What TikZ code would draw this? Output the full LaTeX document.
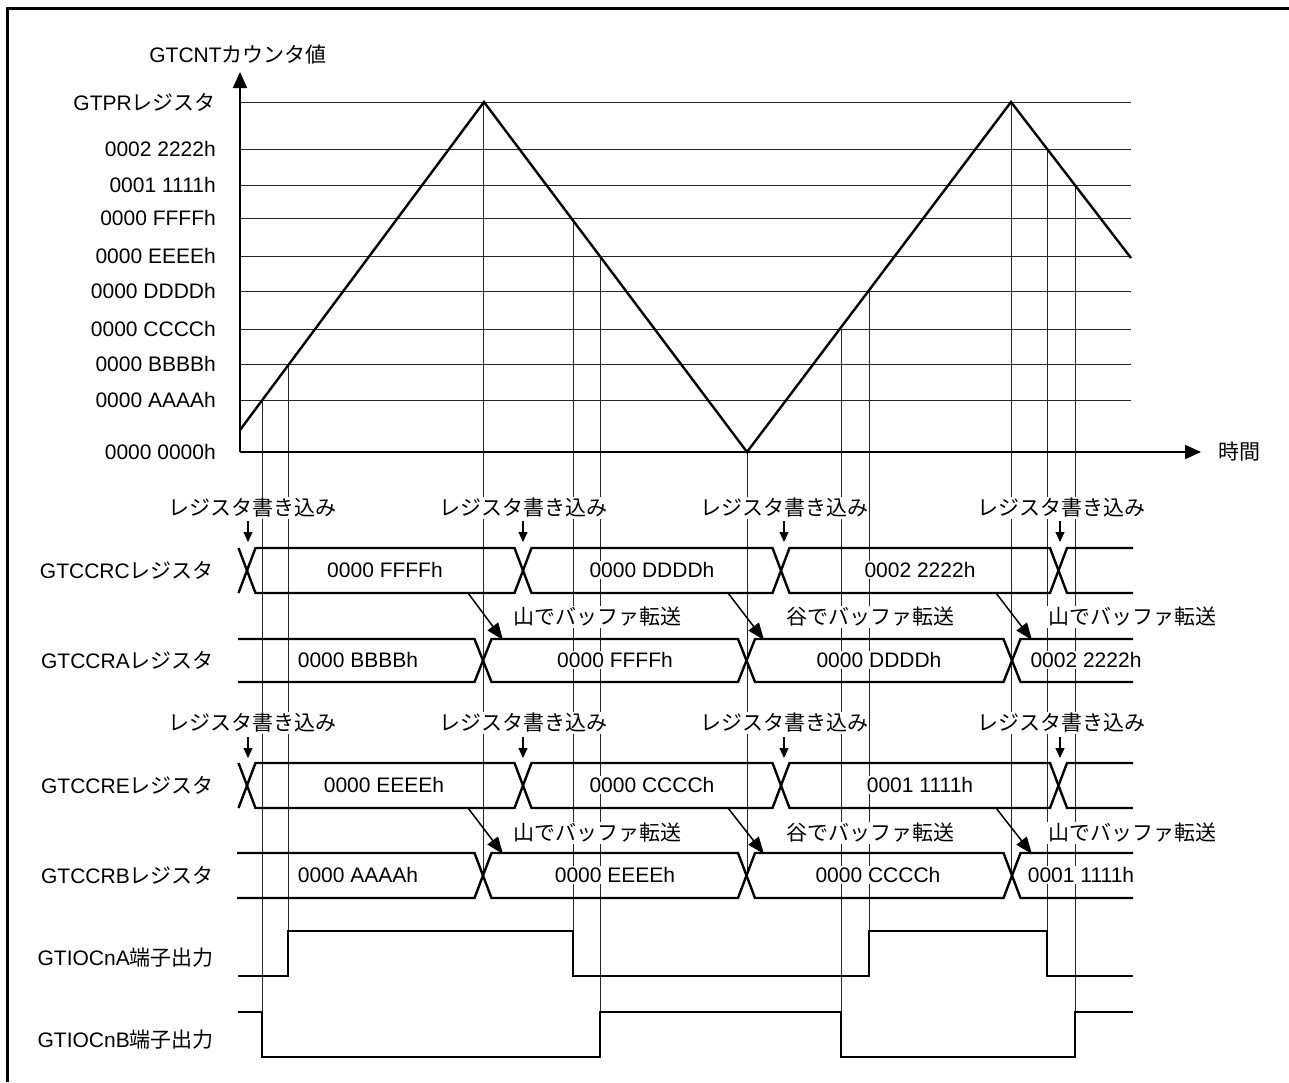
\documentclass[tikz,border=0pt]{standalone}
\usepackage{fontspec}
\setmainfont{Liberation Sans}
\newfontfamily\jp{Noto Sans CJK JP}
\usetikzlibrary{arrows.meta}
\begin{document}
\begin{tikzpicture}[x=1pt,y=-1pt,
  font=\fontsize{21}{24}\selectfont,
  gridline/.style={line width=1pt,black!85},
  wave/.style={line width=2.4pt,line join=miter},
  axis/.style={line width=2pt,-{Triangle[length=16pt,width=14pt]}},
  txt/.style={inner sep=1pt,fill=white},
  lbl/.style={inner sep=0pt,anchor=east},
  dnarrow/.style={line width=1.2pt,-{Triangle[length=10pt,width=9pt]}},
  xfer/.style={line width=1.5pt,-{Triangle[length=17pt,width=13pt]}}]
\useasboundingbox (0,0) rectangle (1289,1082);
% frame
\draw[line width=3pt] (7,1082) -- (7,8.5) -- (1289,8.5);

% horizontal grid
\foreach \yy in {102,149,185,218,256,291,329,364,400}
  \draw[gridline] (240,\yy) -- (1131,\yy);

% vertical lines
\draw[gridline] (262,400) -- (262,1012);
\draw[gridline] (288,364) -- (288,931);
\draw[gridline] (483,102) -- (483,876);
\draw[gridline] (573,218) -- (573,931);
\draw[gridline] (600,256) -- (600,1012);
\draw[gridline] (747,452) -- (747,876);
\draw[gridline] (841,329) -- (841,1012);
\draw[gridline] (869,291) -- (869,931);
\draw[gridline] (1011,102) -- (1011,876);
\draw[gridline] (1047,149) -- (1047,931);
\draw[gridline] (1075,185) -- (1075,1012);

% axes
\coordinate (orig) at (240,452);
\coordinate (ytip) at (240,72);
\coordinate (xtip) at (1201,452);
\draw[axis] (orig) -- (ytip);
\draw[axis] (orig) -- (xtip);
\node[inner sep=0pt] (ylab) at (238,55) {GTCNT{\jp カウンタ値}};
\node[inner sep=0pt,anchor=west] (xlab) at (1218,452) {\jp 時間};

% y labels
\node[lbl] (l0) at (216,102) {GTPR{\jp レジスタ}};
\node[lbl] (l1) at (216,149) {0002 2222h};
\node[lbl] (l2) at (216,185) {0001 1111h};
\node[lbl] (l3) at (216,218) {0000 FFFFh};
\node[lbl] (l4) at (216,256) {0000 EEEEh};
\node[lbl] (l5) at (216,291) {0000 DDDDh};
\node[lbl] (l6) at (216,329) {0000 CCCCh};
\node[lbl] (l7) at (216,364) {0000 BBBBh};
\node[lbl] (l8) at (216,400) {0000 AAAAh};
\node[lbl] (l9) at (216,452) {0000 0000h};

% triangle
\draw[wave] (240,430) -- (484,102) -- (747,452) -- (1011,102) -- (1131,258);

% row labels
\node[lbl] (rC) at (214,570) {GTCCRC{\jp レジスタ}};
\node[lbl] (rA) at (214,660) {GTCCRA{\jp レジスタ}};
\node[lbl] (rE) at (214,785) {GTCCRE{\jp レジスタ}};
\node[lbl] (rB) at (214,875) {GTCCRB{\jp レジスタ}};
\node[lbl] (rOA) at (214,958) {GTIOCnA{\jp 端子出力}};
\node[lbl] (rOB) at (214,1040) {GTIOCnB{\jp 端子出力}};

% register write labels
\foreach \cx/\nm in {252/a,523/b,784/c,1061/d}{
  \node[txt] (wc\nm) at (\cx,508) {\jp レジスタ書き込み};
  \node[txt] (we\nm) at (\cx,723) {\jp レジスタ書き込み};
}
\foreach \ax in {248,523,784,1060}{
  \draw[dnarrow] (\ax,521) -- (\ax,542);
  \draw[dnarrow] (\ax,737) -- (\ax,758);
}

% transfer labels
\node[txt] (tc1) at (597,617) {\jp 山でバッファ転送};
\node[txt] (tc2) at (870,617) {\jp 谷でバッファ転送};
\node[txt] (tc3) at (1132,617) {\jp 山でバッファ転送};
\node[txt] (te1) at (597,833) {\jp 山でバッファ転送};
\node[txt] (te2) at (870,833) {\jp 谷でバッファ転送};
\node[txt] (te3) at (1132,833) {\jp 山でバッファ転送};

% bus values
\node[txt] (vc1) at (385,570) {0000 FFFFh};
\node[txt] (vc2) at (652,570) {0000 DDDDh};
\node[txt] (vc3) at (920,570) {0002 2222h};
\node[txt] (va1) at (358,660) {0000 BBBBh};
\node[txt] (va2) at (615,660) {0000 FFFFh};
\node[txt] (va3) at (879,660) {0000 DDDDh};
\node[txt] (va4) at (1086,660) {0002 2222h};
\node[txt] (ve1) at (384,785) {0000 EEEEh};
\node[txt] (ve2) at (652,785) {0000 CCCCh};
\node[txt] (ve3) at (920,785) {0001 1111h};
\node[txt] (vb1) at (358,875) {0000 AAAAh};
\node[txt] (vb2) at (615,875) {0000 EEEEh};
\node[txt] (vb3) at (878,875) {0000 CCCCh};
\node[txt] (vb4) at (1081,875) {0001 1111h};

% bus C
\draw[wave] (238.5,593) -- (255.5,548) -- (514.5,548) -- (531.5,593) -- (772.5,593) -- (789.5,548) -- (1050,548) -- (1067,593) -- (1133,593);
\draw[wave] (238.5,548) -- (255.5,593) -- (514.5,593) -- (531.5,548) -- (772.5,548) -- (789.5,593) -- (1050,593) -- (1067,548) -- (1133,548);
% bus A
\draw[wave] (238,639) -- (474.5,639) -- (491.5,682) -- (738,682) -- (755,639) -- (1003.5,639) -- (1020.5,682) -- (1133,682);
\draw[wave] (238,682) -- (474.5,682) -- (491.5,639) -- (738,639) -- (755,682) -- (1003.5,682) -- (1020.5,639) -- (1133,639);
% bus E
\draw[wave] (238.5,808) -- (255.5,763) -- (514.5,763) -- (531.5,808) -- (772.5,808) -- (789.5,763) -- (1050,763) -- (1067,808) -- (1133,808);
\draw[wave] (238.5,763) -- (255.5,808) -- (514.5,808) -- (531.5,763) -- (772.5,763) -- (789.5,808) -- (1050,808) -- (1067,763) -- (1133,763);
% bus B
\draw[wave] (237,853) -- (474.5,853) -- (491.5,898) -- (738,898) -- (755,853) -- (1003.5,853) -- (1020.5,898) -- (1133,898);
\draw[wave] (237,898) -- (474.5,898) -- (491.5,853) -- (738,853) -- (755,898) -- (1003.5,898) -- (1020.5,853) -- (1133,853);

% transfer arrows
\foreach \sx/\ex in {468/503,728/764,996/1032}{
  \draw[xfer] (\sx,593) -- (\ex,640);
  \draw[xfer] (\sx,808) -- (\ex,854);
}

% outputs
\draw[wave] (238,976) -- (288,976) -- (288,931) -- (573,931) -- (573,976) -- (869,976) -- (869,931) -- (1047,931) -- (1047,976) -- (1133,976);
\draw[wave] (238,1012) -- (262,1012) -- (262,1057) -- (600,1057) -- (600,1012) -- (841,1012) -- (841,1057) -- (1075,1057) -- (1075,1012) -- (1133,1012);
\end{tikzpicture}
\end{document}
